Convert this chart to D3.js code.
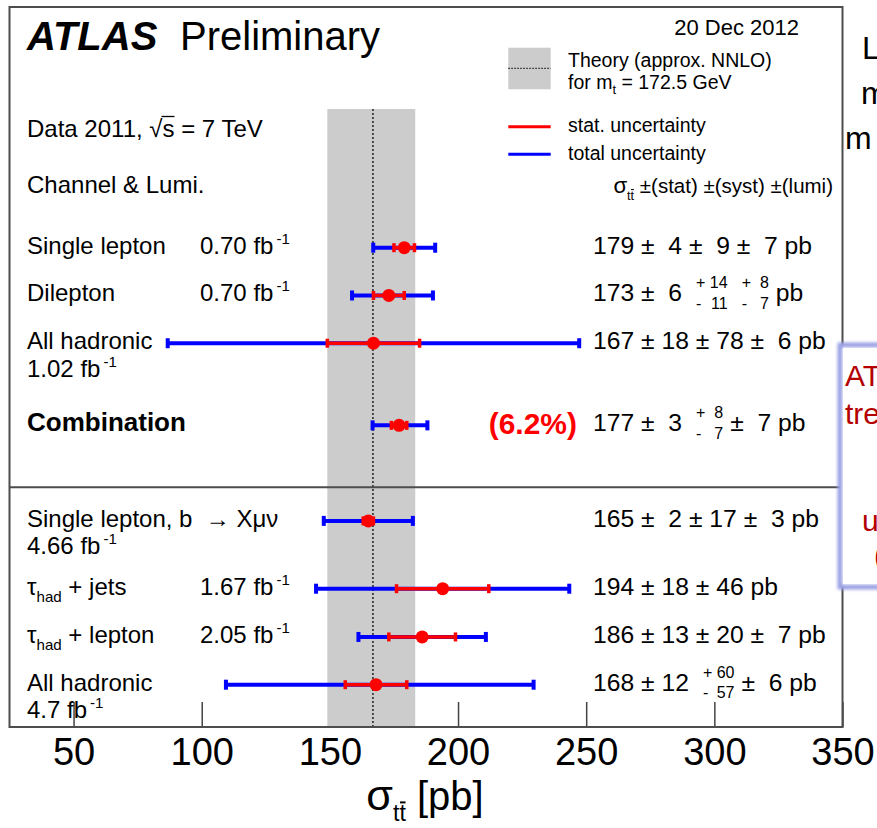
<!DOCTYPE html>
<html>
<head>
<meta charset="utf-8">
<script src="https://cdn.jsdelivr.net/npm/d3@7"></script>
<style>
  html, body { margin: 0; padding: 0; background: #fff; overflow: hidden; }
  svg { display: block; font-family: "Liberation Sans", Arial, Helvetica, sans-serif; }
  text { white-space: pre; }
</style>
</head>
<body>
<svg id="chart" width="877" height="828"></svg>
<script>
// ---- measurements: sigma(ttbar) in pb ----
const channels   = ["Single lepton", "Dilepton", "All hadronic", "Combination",
                    "Single lepton, b  \u2192 X\u03bc\u03bd", "\u03c4_{had} + jets", "\u03c4_{had} + lepton", "All hadronic"];
const lumis      = ["0.70", "0.70", "1.02", null, "4.66", "1.67", "2.05", "4.7"];
const central    = [179, 173, 167, 177, 165, 194, 186, 168];
const stat       = [4, 6, 18, 3, 2, 18, 13, 12];
const systUp     = [9, 14, 78, 8, 17, 46, 20, 60];
const systDown   = [9, 11, 78, 7, 17, 46, 20, 57];
const lumiUp     = [7, 8, 6, 7, 3, null, 7, 6];
const lumiDown   = [7, 7, 6, 7, 3, null, 7, 6];
const combinationPrecision = "(6.2%)";

// ---- theory prediction (approx. NNLO, m_t = 172.5 GeV) ----
const theoryCentral = 166.8;
const theoryUp = 16.5;
const theoryDown = 17.8;

// ---- axis ----
const xDomain = [25, 350];
const xTicks = [50, 100, 150, 200, 250, 300, 350];

// ---- layout ----
const W = 877, H = 828;
const frame = { left: 9.5, right: 842.5, top: 7, bottom: 727 };
const rowSlot = [0, 1, 2, 3.72, 5.72, 7.14, 8.15, 9.15];
const lumiOnSecondLine = [false, false, true, false, true, false, false, true];
const boldRow = [false, false, false, true, false, false, false, false];
const dividerAfterRow = 3;

const svg = d3.select("#chart");
svg.append("rect").attr("width", W).attr("height", H).attr("fill", "#fff");

const x = d3.scaleLinear().domain(xDomain).range([frame.left, frame.right]);
const y = d3.scaleLinear().domain([0, rowSlot[rowSlot.length - 1]]).range([247.7, 684.7]);

// ---- axis: ticks pointing into the frame, big labels below ----
const axis = d3.axisBottom(x).tickValues(xTicks).tickFormat(d3.format("d"))
  .tickSizeInner(-25).tickSizeOuter(0).tickPadding(11);
const gAxis = svg.append("g").attr("transform", `translate(0,${frame.bottom})`).call(axis);
gAxis.select(".domain").remove();
gAxis.selectAll(".tick line").attr("stroke", "#444").attr("stroke-width", 1.5);
gAxis.selectAll(".tick text").attr("font-size", 38).attr("fill", "#000")
  .attr("font-family", "Liberation Sans, Arial, sans-serif");

// ---- theory band ----
svg.append("rect")
  .attr("x", x(theoryCentral - theoryDown)).attr("y", 109)
  .attr("width", x(theoryCentral + theoryUp) - x(theoryCentral - theoryDown))
  .attr("height", frame.bottom - 109)
  .attr("fill", "#cccccc");
svg.append("line")
  .attr("x1", x(theoryCentral)).attr("x2", x(theoryCentral))
  .attr("y1", 109).attr("y2", frame.bottom)
  .attr("stroke", "#222").attr("stroke-width", 1.5).attr("stroke-dasharray", "2,2");

// ---- frame and divider ----
svg.append("rect")
  .attr("x", frame.left).attr("y", frame.top)
  .attr("width", frame.right - frame.left).attr("height", frame.bottom - frame.top)
  .attr("fill", "none").attr("stroke", "#4d4d4d").attr("stroke-width", 2);
const yDivider = (y(rowSlot[dividerAfterRow]) + y(rowSlot[dividerAfterRow + 1])) / 2 + 14;
svg.append("line")
  .attr("x1", frame.left).attr("x2", frame.right)
  .attr("y1", yDivider).attr("y2", yDivider)
  .attr("stroke", "#4d4d4d").attr("stroke-width", 2);

// ---- error bars ----
const totUp = central.map((c, i) => Math.sqrt(stat[i] ** 2 + systUp[i] ** 2 + (lumiUp[i] || 0) ** 2));
const totDown = central.map((c, i) => Math.sqrt(stat[i] ** 2 + systDown[i] ** 2 + (lumiDown[i] || 0) ** 2));

const gBars = svg.append("g");
central.forEach((c, i) => {
  const yc = y(rowSlot[i]);
  const g = gBars.append("g");
  const lo = x(c - totDown[i]), hi = x(c + totUp[i]);
  g.append("line").attr("x1", lo).attr("x2", hi).attr("y1", yc).attr("y2", yc)
    .attr("stroke", "#0000ff").attr("stroke-width", 4);
  [lo, hi].forEach(px => g.append("rect").attr("x", px - 2).attr("y", yc - 5)
    .attr("width", 4).attr("height", 10).attr("fill", "#0000ff"));
  const slo = x(c - stat[i]), shi = x(c + stat[i]);
  g.append("line").attr("x1", slo).attr("x2", shi).attr("y1", yc).attr("y2", yc)
    .attr("stroke", "#ff0000").attr("stroke-width", 3.5);
  [slo, shi].forEach(px => g.append("rect").attr("x", px - 1.75).attr("y", yc - 4.5)
    .attr("width", 3.5).attr("height", 9).attr("fill", "#ff0000"));
  g.append("circle").attr("cx", x(c)).attr("cy", yc).attr("r", 6.5).attr("fill", "#ff0000");
});

// ---- text helpers ----
const gText = svg.append("g").attr("fill", "#000");

// text with "_{...}" subscripts
function richLabel(parent, str, px, py, size, bold) {
  const t = parent.append("text").attr("x", px).attr("y", py).attr("font-size", size)
    .attr("font-weight", bold ? "bold" : null);
  const parts = str.split(/(_\{[^}]*\})/).filter(s => s.length);
  let shifted = false;
  parts.forEach(p => {
    if (p.startsWith("_{")) {
      t.append("tspan").attr("font-size", size * 0.63).attr("dy", 7).text(p.slice(2, -1));
      shifted = true;
    } else {
      t.append("tspan").attr("dy", shifted ? -7 : null).text(p);
      shifted = false;
    }
  });
  return t;
}

function lumiLabel(parent, str, px, py) {
  const t = parent.append("text").attr("x", px).attr("y", py).attr("font-size", 24);
  t.append("tspan").text(str + " fb");
  t.append("tspan").attr("font-size", 15).attr("dx", 3).attr("dy", -10).text("-1");
  return t;
}

const pad = n => (n < 10 ? " " + n : String(n));
const valueSize = 24.7;

function valueText(parent, i, x0, yb) {
  let cx = x0;
  let prevBlock = false;
  const put = str => {
    const t = parent.append("text").attr("x", cx).attr("y", yb).attr("font-size", valueSize).text(str);
    cx += t.node().getComputedTextLength();
    prevBlock = false;
  };
  const block = (up, dn) => {
    cx += prevBlock ? 7 : 14;
    const probe = parent.append("text").attr("font-size", 16).text("+ " + pad(Math.max(up, dn)));
    const w = probe.node().getComputedTextLength();
    probe.remove();
    parent.append("text").attr("x", cx).attr("y", yb - 13).attr("font-size", 16).text("+");
    parent.append("text").attr("x", cx).attr("y", yb + 7.5).attr("font-size", 16).text("-");
    parent.append("text").attr("x", cx + w).attr("y", yb - 13).attr("font-size", 16)
      .attr("text-anchor", "end").text(String(up));
    parent.append("text").attr("x", cx + w).attr("y", yb + 7.5).attr("font-size", 16)
      .attr("text-anchor", "end").text(String(dn));
    cx += w + 7;
    prevBlock = true;
  };
  put(`${central[i]} \u00b1 ${pad(stat[i])}`);
  if (systUp[i] === systDown[i]) put(` \u00b1 ${pad(systUp[i])}`);
  else block(systUp[i], systDown[i]);
  if (lumiUp[i] != null) {
    if (lumiUp[i] === lumiDown[i]) put(`${prevBlock ? "" : " "}\u00b1 ${pad(lumiUp[i])}`);
    else block(lumiUp[i], lumiDown[i]);
  }
  put(prevBlock ? "pb" : " pb");
}

// ---- row labels and values ----
channels.forEach((name, i) => {
  const yb = y(rowSlot[i]) + 6;
  richLabel(gText, name, 27, yb, boldRow[i] ? 26 : 24, boldRow[i]);
  if (lumis[i] != null) {
    if (lumiOnSecondLine[i]) lumiLabel(gText, lumis[i], 27, yb + 27.5);
    else lumiLabel(gText, lumis[i], 200, yb);
  }
  valueText(gText, i, 593, yb);
});
gText.append("text").attr("x", 577).attr("y", y(rowSlot[3]) + 8.5)
  .attr("text-anchor", "end").attr("font-size", 30).attr("font-weight", "bold")
  .attr("fill", "#ff0000").text(combinationPrecision);

// ---- header texts ----
gText.append("text").attr("x", 27).attr("y", 50).attr("font-size", 40)
  .attr("font-weight", "bold").attr("font-style", "italic").text("ATLAS");
gText.append("text").attr("x", 180).attr("y", 50).attr("font-size", 40).text("Preliminary");

gText.append("text").attr("x", 799).attr("y", 34.5).attr("font-size", 22)
  .attr("text-anchor", "end").text("20 Dec 2012");

const tData = gText.append("text").attr("x", 27).attr("y", 136.5).attr("font-size", 24)
  .text("Data 2011, \u221as = 7 TeV");
{
  const root = tData.node().getExtentOfChar(11);
  const s = tData.node().getExtentOfChar(12);
  const yTop = root.y + 2;
  gText.append("line").attr("x1", root.x + root.width - 1).attr("x2", s.x + s.width)
    .attr("y1", yTop).attr("y2", yTop).attr("stroke", "#000").attr("stroke-width", 1.3);
}
gText.append("text").attr("x", 27).attr("y", 192.5).attr("font-size", 24).text("Channel & Lumi.");

// ---- legend ----
const gLeg = svg.append("g");
gLeg.append("rect").attr("x", 508.3).attr("y", 47.7).attr("width", 42.4).attr("height", 41.6)
  .attr("fill", "#cccccc");
gLeg.append("line").attr("x1", 508.3).attr("x2", 550.7).attr("y1", 68.3).attr("y2", 68.3)
  .attr("stroke", "#222").attr("stroke-width", 1.2).attr("stroke-dasharray", "1.5,1.5");
gLeg.append("text").attr("x", 568).attr("y", 66.5).attr("font-size", 19.5).text("Theory (approx. NNLO)");
const tMt = gLeg.append("text").attr("x", 568).attr("y", 88.5).attr("font-size", 19.5);
tMt.append("tspan").text("for m");
tMt.append("tspan").attr("font-size", 13).attr("dy", 5).text("t");
tMt.append("tspan").attr("dy", -5).text(" = 172.5 GeV");
gLeg.append("line").attr("x1", 508.3).attr("x2", 550.7).attr("y1", 126.7).attr("y2", 126.7)
  .attr("stroke", "#ff0000").attr("stroke-width", 3);
gLeg.append("text").attr("x", 568).attr("y", 132).attr("font-size", 19.5).text("stat. uncertainty");
gLeg.append("line").attr("x1", 508.3).attr("x2", 550.7).attr("y1", 154.3).attr("y2", 154.3)
  .attr("stroke", "#0000ff").attr("stroke-width", 3);
gLeg.append("text").attr("x", 568).attr("y", 160).attr("font-size", 19.5).text("total uncertainty");

// sigma_tt header with bar over the second t
function sigmaTT(parent, px, py, size, anchor, rest, subScale, offScale) {
  const t = parent.append("text").attr("x", px).attr("y", py).attr("font-size", size)
    .attr("text-anchor", anchor);
  const sub = size * subScale, off = size * offScale;
  t.append("tspan").attr("font-size", size * 1.08).text("\u03c3");
  t.append("tspan").attr("font-size", sub).attr("dy", off).text("tt");
  t.append("tspan").attr("dy", -off).text(rest);
  const e = t.node().getExtentOfChar(2);
  const yb = e.y + e.height * 0.1;
  parent.append("line").attr("x1", e.x + e.width * 0.1).attr("x2", e.x + e.width * 0.95)
    .attr("y1", yb).attr("y2", yb).attr("stroke", "#000").attr("stroke-width", size * 0.05);
  return t;
}
sigmaTT(gLeg, 833, 193.3, 20.5, "end", " \u00b1(stat) \u00b1(syst) \u00b1(lumi)", 0.62, 0.33);

// axis title
sigmaTT(svg, 425, 810, 40, "middle", " [pb]", 0.58, 0.27);

// ---- neighbouring slide content at the right edge ----
const gSide = svg.append("g").attr("font-size", 32).attr("fill", "#000");
gSide.append("text").attr("x", 862).attr("y", 59).text("L");
gSide.append("text").attr("x", 861).attr("y", 104).text("m");
gSide.append("text").attr("x", 845).attr("y", 149).text("m");

const defs = svg.append("defs");
const f = defs.append("filter").attr("id", "soft").attr("x", "-20%").attr("y", "-20%")
  .attr("width", "140%").attr("height", "140%");
f.append("feGaussianBlur").attr("stdDeviation", 1.6);
svg.append("rect").attr("x", 840).attr("y", 345).attr("width", 60).attr("height", 242)
  .attr("fill", "#fff").attr("stroke", "#9aa0e4").attr("stroke-width", 5)
  .attr("filter", "url(#soft)");
svg.append("rect").attr("x", 843).attr("y", 348).attr("width", 60).attr("height", 236)
  .attr("fill", "#fff");
const gBox = svg.append("g").attr("font-size", 30).attr("fill", "#b40000");
gBox.append("text").attr("x", 845).attr("y", 386).text("AT");
gBox.append("text").attr("x", 845).attr("y", 424).text("tre");
gBox.append("text").attr("x", 862).attr("y", 531).text("u");
gBox.append("text").attr("x", 874).attr("y", 566).text("(");
</script>
</body>
</html>
